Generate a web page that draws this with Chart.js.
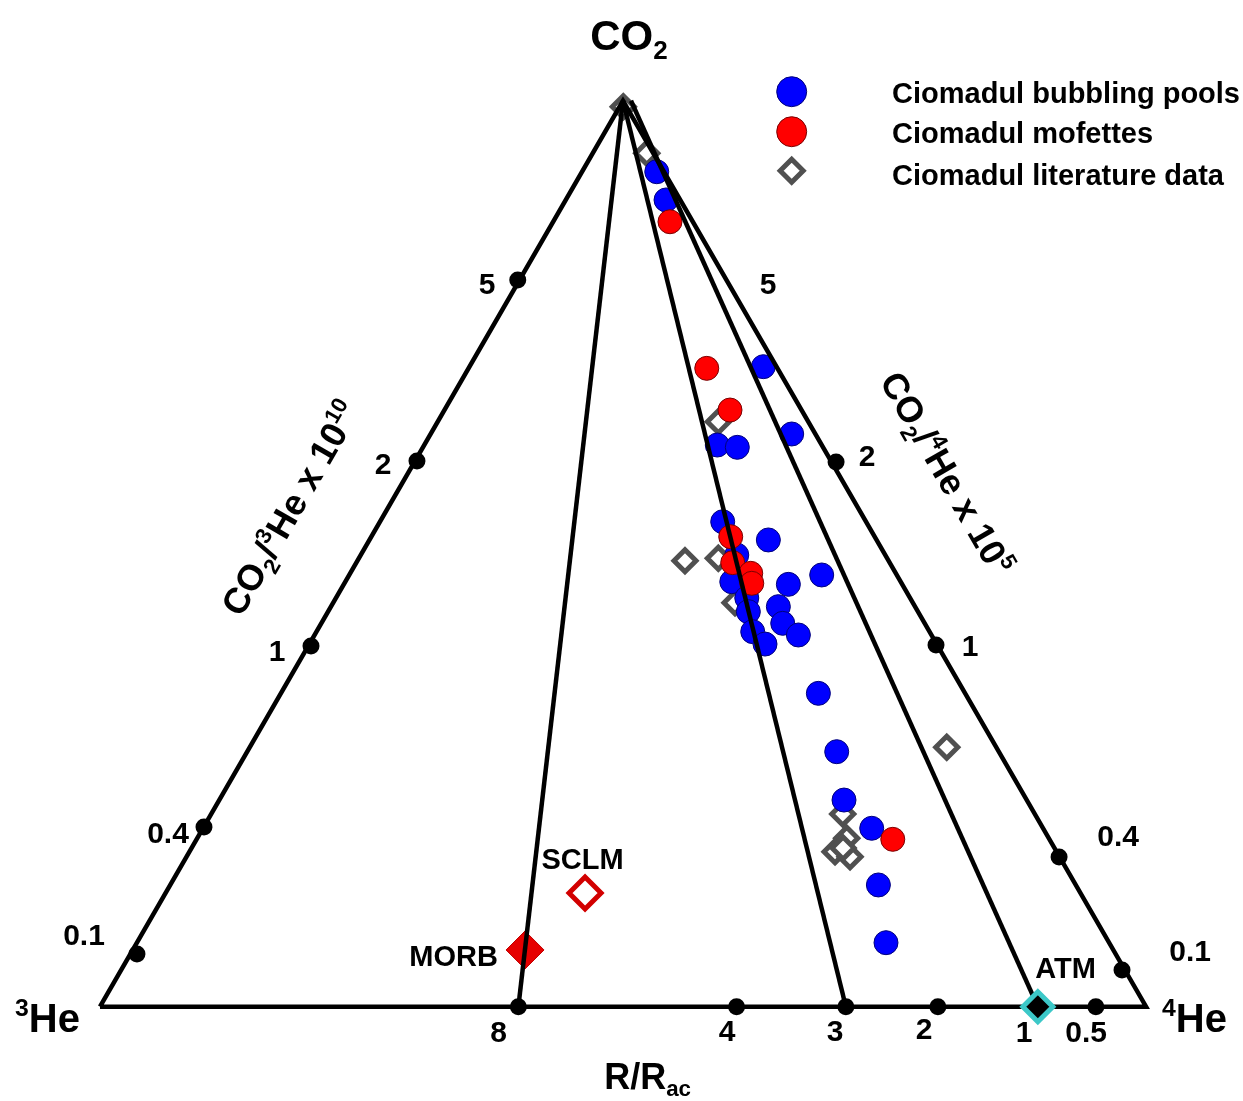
<!DOCTYPE html>
<html>
<head>
<meta charset="utf-8">
<title>CO2 - 3He - 4He ternary</title>
<script src="https://cdn.jsdelivr.net/npm/chart.js@4.4.1/dist/chart.umd.min.js"></script>
<style>
  body { margin: 0; background: #fff; }
  #wrap { position: relative; width: 1243px; height: 1101px; }
</style>
</head>
<body>
<div id="wrap"><canvas id="ternary"></canvas></div>
<script>
// Plot frame: 3He corner at x=0, 4He corner at x=100, CO2 apex on top (y ~ 86.7)
const triangle = [{x: -0.29, y: -0.16}, {x: 100.1, y: -0.16}, {x: 49.9, y: 86.78}, {x: -0.29, y: -0.16}];

// R/Rac lines from CO2 down to the base
const ratioLineTops = [{x: 49.9, y: 86.78}, {x: 49.9, y: 86.78}, {x: 50.67, y: 86.78}];
const ratioLineEnds = [{x: 39.86, y: -0.16}, {x: 71.29, y: -0.16}, {x: 89.71, y: -0.16}];

// tick dots and their labels
const leftTickLabels = ['5', '2', '1', '0.4', '0.1'];
const leftTickDots = [{x: 39.8, y: 69.58}, {x: 30.13, y: 52.21}, {x: 19.96, y: 34.45}, {x: 9.69, y: 17.08}, {x: 3.26, y: 4.89}];
const rightTickLabels = ['5', '2', '1', '0.4', '0.1'];
const rightTickDots = [{x: 70.35, y: 52.11}, {x: 79.94, y: 34.55}, {x: 91.75, y: 14.20}, {x: 97.79, y: 3.36}];
const baseTickLabels = ['8', '4', '3', '2', '1', '0.5'];
const baseTickDots = [{x: 39.86, y: -0.16}, {x: 60.80, y: -0.16}, {x: 71.29, y: -0.16}, {x: 80.12, y: -0.16}, {x: 89.71, y: -0.16}, {x: 95.28, y: -0.16}];

// samples
const bubblingPools = [
  {x: 53.14, y: 79.97}, {x: 54.03, y: 77.26}, {x: 63.37, y: 61.26}, {x: 66.09, y: 54.80},
  {x: 58.95, y: 53.74}, {x: 60.87, y: 53.52}, {x: 59.47, y: 46.38}, {x: 63.85, y: 44.63},
  {x: 60.82, y: 43.19}, {x: 68.97, y: 41.27}, {x: 65.77, y: 40.37}, {x: 60.34, y: 40.62},
  {x: 61.78, y: 39.06}, {x: 61.93, y: 37.75}, {x: 64.81, y: 38.23}, {x: 65.23, y: 36.63},
  {x: 66.73, y: 35.51}, {x: 62.35, y: 35.83}, {x: 63.53, y: 34.64}, {x: 68.65, y: 29.91},
  {x: 70.41, y: 24.31}, {x: 71.11, y: 19.67}, {x: 73.77, y: 16.96}, {x: 74.41, y: 11.52},
  {x: 75.14, y: 5.98}
];
const mofettes = [
  {x: 54.41, y: 75.17}, {x: 57.94, y: 61.10}, {x: 60.17, y: 57.10}, {x: 60.24, y: 44.94},
  {x: 60.43, y: 42.45}, {x: 62.16, y: 41.43}, {x: 62.26, y: 40.47}, {x: 75.79, y: 15.90}
];
const literature = [
  {x: 49.93, y: 86.21}, {x: 52.18, y: 81.74}, {x: 59.05, y: 55.98}, {x: 55.85, y: 42.64},
  {x: 59.05, y: 42.87}, {x: 60.65, y: 38.61}, {x: 80.97, y: 24.73}, {x: 70.99, y: 18.33},
  {x: 71.37, y: 16.00}, {x: 70.25, y: 14.71}, {x: 71.69, y: 14.23}, {x: 71.02, y: 15.07}
];

// end members
const morb = [{x: 40.50, y: 5.28}];
const sclm = [{x: 46.26, y: 10.75}];
const atm = [{x: 89.71, y: -0.16}];

const legendNames = ['Ciomadul bubbling pools', 'Ciomadul mofettes', 'Ciomadul literature data'];

const FONT = '"Liberation Sans", Arial, sans-serif';

// text anchors (plot units) for the labels
const textItems = [
  {parts: [['CO', 'n'], ['2', 'sub']], x: 50.48, y: 93.09, size: 42},
  {parts: [['3', 'sup'], ['He', 'n']], x: -5.33, y: -1.25, size: 40},
  {parts: [['4', 'sup'], ['He', 'n']], x: 104.75, y: -1.25, size: 40},
  {parts: [['R/R', 'n'], ['ac', 'sub']], x: 52.26, y: -6.77, size: 36},
  {parts: [['CO', 'n'], ['2', 'sub'], ['/', 'n'], ['3', 'sup'], ['He x 10', 'n'], ['10', 'sup']], x: 17.95, y: 47.70, size: 36, rot: -60},
  {parts: [['CO', 'n'], ['2', 'sub'], ['/', 'n'], ['4', 'sup'], ['He x 10', 'n'], ['5', 'sup']], x: 81.0, y: 51.06, size: 36, rot: 60},
  {parts: [['MORB', 'n']], x: 33.64, y: 4.70, size: 29},
  {parts: [['SCLM', 'n']], x: 46.02, y: 14.01, size: 29},
  {parts: [['ATM', 'n']], x: 92.37, y: 3.55, size: 29}
];
const leftLabelPos = [{x: 36.85, y: 69.29}, {x: 26.87, y: 52.02}, {x: 16.70, y: 34.07}, {x: 6.24, y: 16.60}, {x: -1.82, y: 6.81}];
const rightLabelPos = [{x: 63.82, y: 69.29}, {x: 73.32, y: 52.78}, {x: 83.21, y: 34.55}, {x: 97.41, y: 16.31}, {x: 104.32, y: 5.28}];
const baseLabelPos = [{x: 37.96, y: -2.50}, {x: 59.88, y: -2.40}, {x: 70.25, y: -2.40}, {x: 78.79, y: -2.21}, {x: 88.39, y: -2.50}, {x: 94.34, y: -2.50}];
const legendMarkerPos = [{x: 66.09, y: 87.65}, {x: 66.09, y: 83.81}, {x: 66.09, y: 80.07}];
const legendTextPos = [{x: 75.72, y: 87.52}, {x: 75.72, y: 83.69}, {x: 75.72, y: 79.65}];

leftTickLabels.forEach((t, i) => textItems.push({parts: [[t, 'n']], x: leftLabelPos[i].x, y: leftLabelPos[i].y, size: 30}));
rightTickLabels.forEach((t, i) => textItems.push({parts: [[t, 'n']], x: rightLabelPos[i].x, y: rightLabelPos[i].y, size: 30}));
baseTickLabels.forEach((t, i) => textItems.push({parts: [[t, 'n']], x: baseLabelPos[i].x, y: baseLabelPos[i].y, size: 30}));

// draws text with sub/superscripts, centred on (px, py)
function drawRich(ctx, parts, px, py, size, rot, align) {
  ctx.save();
  ctx.translate(px, py);
  ctx.rotate((rot || 0) * Math.PI / 180);
  ctx.fillStyle = '#000';
  ctx.textBaseline = 'alphabetic';
  const segs = parts.map(([t, mode]) => {
    const s = mode === 'n' ? size : size * 0.62;
    ctx.font = `bold ${s}px ${FONT}`;
    return {t, s, mode, w: ctx.measureText(t).width};
  });
  const total = segs.reduce((a, g) => a + g.w, 0);
  let cx = align === 'left' ? 0 : -total / 2;
  const base = size * 0.36;
  segs.forEach(g => {
    ctx.font = `bold ${g.s}px ${FONT}`;
    let dy = 0;
    if (g.mode === 'sub') dy = size * 0.22;
    if (g.mode === 'sup') dy = -size * 0.4;
    ctx.fillText(g.t, cx, base + dy);
    cx += g.w;
  });
  ctx.restore();
}

function diamondPath(ctx, x, y, r) {
  ctx.beginPath();
  ctx.moveTo(x - r, y);
  ctx.lineTo(x, y - r);
  ctx.lineTo(x + r, y);
  ctx.lineTo(x, y + r);
  ctx.closePath();
}

const labelPlugin = {
  id: 'ternaryText',
  afterDatasetsDraw(chart) {
    const ctx = chart.ctx;
    const sx = chart.scales.x, sy = chart.scales.y;
    textItems.forEach(it => {
      drawRich(ctx, it.parts, sx.getPixelForValue(it.x), sy.getPixelForValue(it.y), it.size, it.rot, 'center');
    });

    // legend
    legendNames.forEach((name, i) => {
      const mx = sx.getPixelForValue(legendMarkerPos[i].x);
      const my = sy.getPixelForValue(legendMarkerPos[i].y);
      ctx.save();
      if (i < 2) {
        ctx.beginPath();
        ctx.arc(mx, my, 15, 0, Math.PI * 2);
        ctx.fillStyle = i === 0 ? '#0000ff' : '#ff0000';
        ctx.fill();
        ctx.lineWidth = 1;
        ctx.strokeStyle = i === 0 ? '#00007a' : '#7a0000';
        ctx.stroke();
      } else {
        diamondPath(ctx, mx, my, 11.5);
        ctx.fillStyle = '#fff';
        ctx.fill();
        ctx.lineWidth = 5;
        ctx.strokeStyle = '#505050';
        ctx.stroke();
      }
      ctx.restore();
      drawRich(ctx, [[name, 'n']], sx.getPixelForValue(legendTextPos[i].x), sy.getPixelForValue(legendTextPos[i].y), 29, 0, 'left');
    });
  }
};

function lineSet(points, order) {
  return {
    data: points, showLine: true, borderColor: '#000', borderWidth: 4.5,
    pointRadius: 0, fill: false, tension: 0, order: order,
    borderJoinStyle: 'miter'
  };
}

const datasets = [
  // end members and tick dots on top
  {data: atm, pointStyle: 'rectRot', pointRadius: 15, backgroundColor: '#000', borderColor: '#3cc8c8', borderWidth: 5, order: 0},
  {data: leftTickDots.concat(rightTickDots, baseTickDots), pointRadius: 8.5, backgroundColor: '#000', borderColor: '#000', borderWidth: 0, order: 1},
  lineSet(triangle, 2)
];
ratioLineEnds.forEach((end, i) => datasets.push(lineSet([ratioLineTops[i], end], 3)));
datasets.push(
  {data: mofettes, pointRadius: 12, backgroundColor: '#ff0000', borderColor: '#7a0000', borderWidth: 1, order: 5},
  {data: bubblingPools, pointRadius: 12, backgroundColor: '#0000ff', borderColor: '#00007a', borderWidth: 1, order: 6},
  {data: literature, pointStyle: 'rectRot', pointRadius: 11, backgroundColor: '#fff', borderColor: '#505050', borderWidth: 5, order: 7},
  {data: morb, pointStyle: 'rectRot', pointRadius: 19, backgroundColor: '#e60000', borderColor: '#c00000', borderWidth: 1, order: 8},
  {data: sclm, pointStyle: 'rectRot', pointRadius: 16, backgroundColor: '#fff', borderColor: '#d20000', borderWidth: 5, order: 8}
);

new Chart(document.getElementById('ternary'), {
  type: 'scatter',
  data: {datasets: datasets},
  options: {
    responsive: true,
    maintainAspectRatio: false,
    animation: false,
    events: [],
    layout: {padding: 0, autoPadding: false},
    plugins: {legend: {display: false}, tooltip: {enabled: false}},
    scales: {
      x: {type: 'linear', display: false, min: -9.885, max: 109.40},
      y: {type: 'linear', display: false, min: -9.213, max: 96.45}
    }
  },
  plugins: [labelPlugin]
});
</script>
</body>
</html>
